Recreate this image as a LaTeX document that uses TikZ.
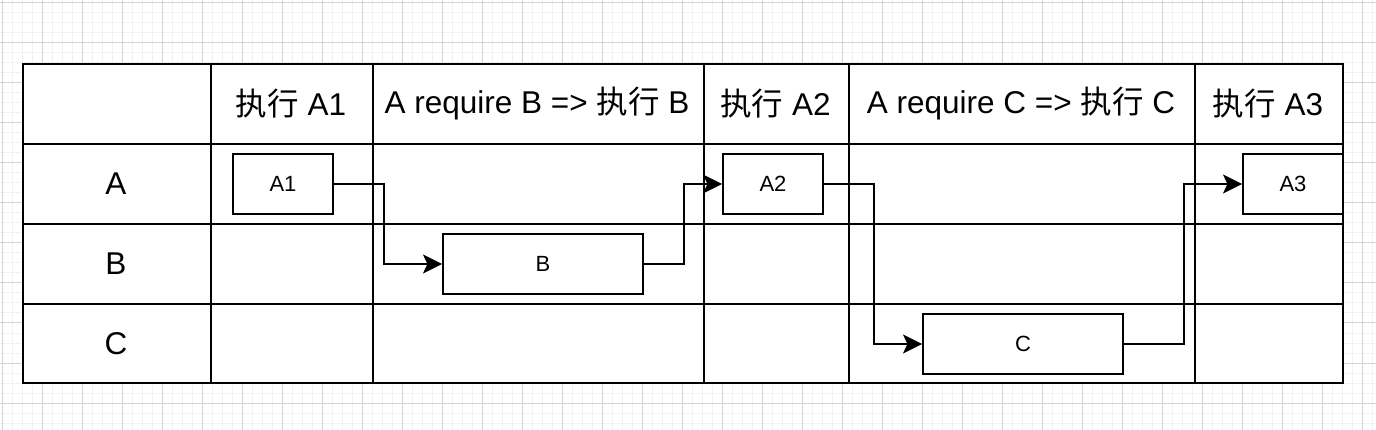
\documentclass[tikz,border=0pt]{standalone}
\usepackage{fontspec}
\setmainfont{Liberation Sans}
\newfontfamily\cjk{Noto Sans CJK SC}
\usetikzlibrary{arrows.meta}
\definecolor{minorgrid}{RGB}{242,242,242}
\definecolor{majorgrid}{RGB}{212,212,212}
\begin{document}
\begin{tikzpicture}[x=1pt,y=-1pt,
  minor/.style={line width=1pt, draw=minorgrid},
  major/.style={line width=1pt, draw=majorgrid},
  tbl/.style={line width=2pt, line cap=rect},
  box/.style={draw, fill=white, line width=2pt, minimum width=100pt, minimum height=60pt, inner sep=0pt, font=\fontsize{22}{26}\selectfont},
  wide/.style={box, minimum width=200pt},
  hdr/.style={font=\fontsize{31.5}{38}\selectfont, inner sep=0pt},
  conn/.style={line width=2pt, -{Stealth[length=19pt,width=19pt,inset=4.5pt]}}
]
\useasboundingbox (0,0) rectangle (1376,430);
% background grid
\foreach \x in {2,12,...,1372} \draw[minor] (\x,0) -- (\x,430);
\foreach \y in {3,13,...,423} \draw[minor] (0,\y) -- (1376,\y);
\foreach \x in {2,42,...,1362} \draw[major] (\x,0) -- (\x,430);
\foreach \y in {3,43,...,403} \draw[major] (0,\y) -- (1376,\y);
% table
\fill[white] (23,64) rectangle (1343,383);
\draw[tbl] (23,64) rectangle (1343,383);
\foreach \y in {144,224,304} \draw[tbl] (23,\y) -- (1343,\y);
\foreach \x in {211,373,704,849,1195} \draw[tbl] (\x,64) -- (\x,383);
% headers
\node[hdr] (h1) at (291,104) {{\cjk 执行} A1};
\node[hdr] (h2) at (537,104) {A require B => {\cjk 执行} B};
\node[hdr] (h3) at (775.5,104) {{\cjk 执行} A2};
\node[hdr] (h4) at (1021,104) {A require C => {\cjk 执行} C};
\node[hdr] (h5) at (1268,104) {{\cjk 执行} A3};
% row labels
\node[hdr] (ra) at (116,184) {A};
\node[hdr] (rb) at (116,264) {B};
\node[hdr] (rc) at (116,344) {C};
% boxes
\node[box] (A1) at (283,184) {A1};
\node[wide] (B) at (543,264) {B};
\node[box] (A2) at (773,184) {A2};
\node[wide] (C) at (1023,344) {C};
\node[box] (A3) at (1293,184) {A3};
% connectors
\draw[conn] (A1.east) -- ++(50,0) |- (B.west);
\draw[conn] (B.east) -- ++(40,0) |- (A2.west);
\draw[conn] (A2.east) -- ++(50,0) |- (C.west);
\draw[conn] (C.east) -- ++(60,0) |- (A3.west);
\end{tikzpicture}
\end{document}
